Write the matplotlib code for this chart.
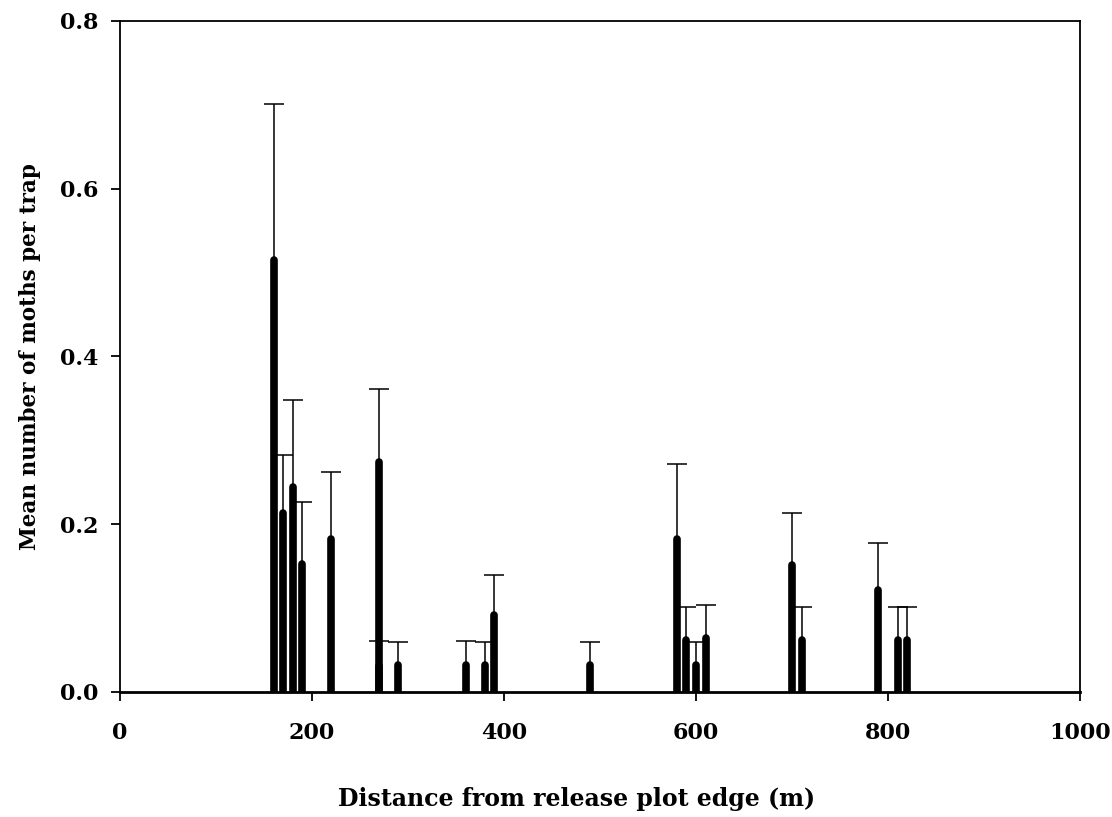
import matplotlib
matplotlib.use("Agg")
import matplotlib.pyplot as plt
import numpy as np

# Distance (m), mean moths per trap, upper error bar top
distance = [270, 160, 170, 180, 190, 220, 270, 290, 360, 380, 390, 490,
            580, 590, 600, 610, 700, 710, 790, 810, 820]
mean_moths = [0.031, 0.515, 0.214, 0.245, 0.153, 0.183, 0.274, 0.032, 0.032, 0.032, 0.092, 0.032,
              0.183, 0.062, 0.032, 0.064, 0.152, 0.062, 0.122, 0.062, 0.062]
upper = [0.061, 0.701, 0.283, 0.348, 0.227, 0.262, 0.361, 0.060, 0.061, 0.060, 0.140, 0.060,
         0.272, 0.101, 0.060, 0.104, 0.214, 0.101, 0.178, 0.101, 0.101]

xticks = [0, 200, 400, 600, 800, 1000]
yticks = [0.0, 0.2, 0.4, 0.6, 0.8]

plt.rcParams['font.family'] = ['DejaVu Serif']

fig = plt.figure(figsize=(11.12, 8.17), dpi=100)
ax = fig.add_axes([0.1079, 0.1530, 0.9712 - 0.1079, 0.9743 - 0.1530])

x = np.array(distance, dtype=float)
m = np.array(mean_moths)
u = np.array(upper)
err = u - m

eb = ax.errorbar(x, m, yerr=[np.zeros_like(err), err], fmt='none', ecolor='black',
                 elinewidth=1.1, capsize=7, capthick=1.1, zorder=2)
caplines = eb[1]
if len(caplines) == 2:
    caplines[0].set_visible(False)
lc = ax.vlines(x, 0, m, colors='black', linewidth=5.5, zorder=3)
lc.set_capstyle('round')

ax.set_xlim(0, 1000)
ax.set_ylim(0, 0.8)
ax.set_xticks(xticks)
ax.set_xticklabels([str(t) for t in xticks])
ax.set_yticks(yticks)
ax.set_yticklabels([f"{t:.1f}" for t in yticks])
ax.tick_params(axis='both', direction='out', length=6.5, width=1.3, labelsize=16)
ax.tick_params(axis='x', pad=15)
ax.tick_params(axis='y', pad=9)
for lbl in ax.get_xticklabels() + ax.get_yticklabels():
    lbl.set_fontweight('bold')
for s in ax.spines.values():
    s.set_linewidth(1.3)
ax.spines['bottom'].set_linewidth(2.0)

ax.set_xlabel("Distance from release plot edge (m)", fontsize=17, fontweight='bold')
ax.xaxis.set_label_coords(0.476, -0.141)
ax.set_ylabel("Mean number of moths per trap", fontsize=15.5, fontweight='bold', labelpad=14)

fig.savefig("out.png", dpi=100)
